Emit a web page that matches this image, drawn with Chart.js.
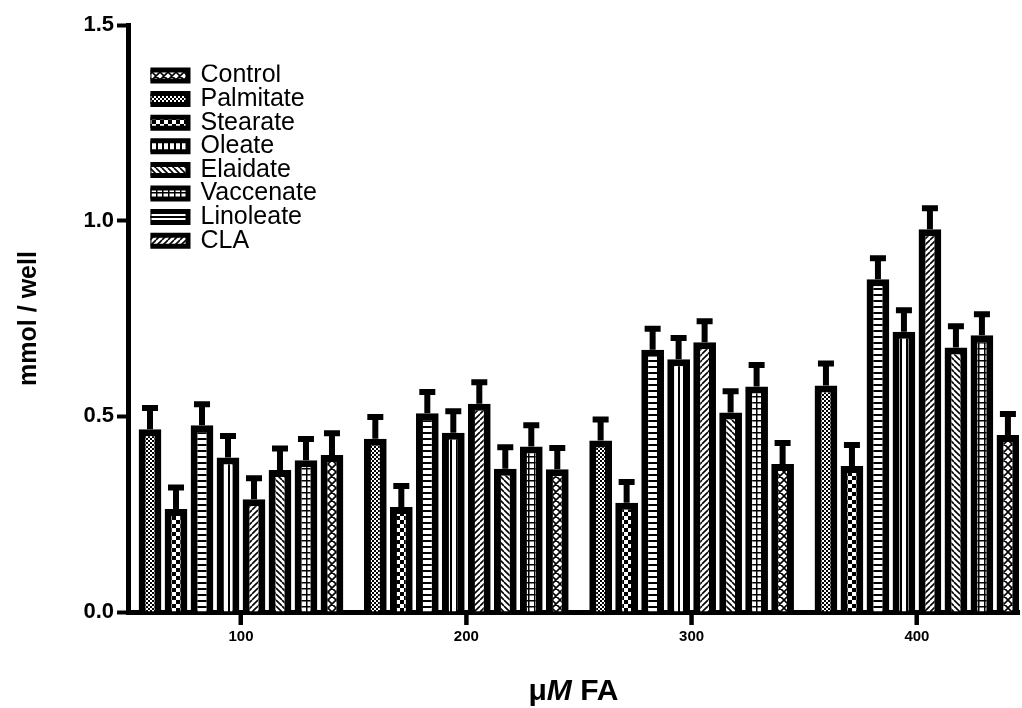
<!DOCTYPE html>
<html>
<head>
<meta charset="utf-8">
<title>mmol / well</title>
<script src="https://cdn.jsdelivr.net/npm/chart.js@4.4.1/dist/chart.umd.min.js"></script>
<style>
    body { margin: 0; background: #fff; }
    #box { width: 1022px; height: 708px; }
</style>
</head>
<body>
<div id="box"><canvas id="grafico" width="1022" height="708"></canvas></div>
<script>
// Dados
const concentracoes = [100, 200, 300, 400];
const ticksY = [0, 0.5, 1.0, 1.5];

// ordem das barras dentro de cada grupo
const nomes = ['Palmitate', 'Stearate', 'Linoleate', 'Oleate', 'CLA', 'Elaidate', 'Vaccenate', 'Control'];
// ordem da legenda
const ordemLegenda = ['Control', 'Palmitate', 'Stearate', 'Oleate', 'Elaidate', 'Vaccenate', 'Linoleate', 'CLA'];

const palmitate = [0.467, 0.443, 0.438, 0.579];
const stearate  = [0.263, 0.268, 0.279, 0.373];
const linoleate = [0.477, 0.508, 0.670, 0.850];
const oleate    = [0.395, 0.458, 0.646, 0.716];
const cla       = [0.288, 0.532, 0.689, 0.978];
const elaidate  = [0.363, 0.366, 0.510, 0.676];
const vaccenate = [0.388, 0.423, 0.576, 0.707];
const control   = [0.401, 0.365, 0.378, 0.452];

// erro padrão (só a parte de cima aparece)
const semPalmitate = [0.054, 0.055, 0.054, 0.056];
const semStearate  = [0.055, 0.054, 0.053, 0.054];
const semLinoleate = [0.054, 0.054, 0.054, 0.054];
const semOleate    = [0.055, 0.055, 0.054, 0.055];
const semCla       = [0.054, 0.055, 0.054, 0.054];
const semElaidate  = [0.055, 0.055, 0.054, 0.054];
const semVaccenate = [0.054, 0.054, 0.055, 0.054];
const semControl   = [0.056, 0.054, 0.054, 0.054];

const valores = [palmitate, stearate, linoleate, oleate, cla, elaidate, vaccenate, control];
const erros = [semPalmitate, semStearate, semLinoleate, semOleate, semCla, semElaidate, semVaccenate, semControl];
const tipos = ['pontos', 'xadrez', 'horizontal', 'vertical', 'diagonal', 'contraDiagonal', 'grade', 'cruzado'];

const fonte = '"Liberation Sans", Arial, sans-serif';

// Função para criar as hachuras em preto e branco
function criarPadrao(tipo) {
    const c = document.createElement('canvas');
    const p = { pontos: 4, xadrez: 8, horizontal: 6, vertical: 6, diagonal: 6, contraDiagonal: 6, grade: 6, cruzado: 8 }[tipo];
    c.width = p;
    c.height = p;
    const g = c.getContext('2d');
    g.fillStyle = '#fff';
    g.fillRect(0, 0, p, p);
    g.fillStyle = '#000';
    g.strokeStyle = '#000';
    g.lineWidth = 1.6;

    if (tipo === 'pontos') {
        g.fillRect(0, 0, 2, 2);
        g.fillRect(2, 2, 2, 2);
    } else if (tipo === 'xadrez') {
        g.fillRect(0, 0, 4, 4);
        g.fillRect(4, 4, 4, 4);
    } else if (tipo === 'horizontal') {
        g.fillRect(0, 0, p, 2);
    } else if (tipo === 'vertical') {
        g.fillRect(0, 0, 2, p);
    } else if (tipo === 'grade') {
        g.fillRect(0, 0, p, 1.5);
        g.fillRect(0, 0, 1.5, p);
    } else {
        g.beginPath();
        for (let k = -p; k <= p; k += p) {
            if (tipo === 'diagonal' || tipo === 'cruzado') {
                g.moveTo(k, p);
                g.lineTo(k + p, 0);
            }
            if (tipo === 'contraDiagonal' || tipo === 'cruzado') {
                g.moveTo(k, 0);
                g.lineTo(k + p, p);
            }
        }
        g.stroke();
    }
    return g.createPattern(c, 'repeat');
}

// Barras de erro desenhadas depois das barras
const barrasDeErro = {
    id: 'barrasDeErro',
    afterDatasetsDraw(chart) {
        const ctx = chart.ctx;
        const y = chart.scales.y;
        ctx.save();
        ctx.strokeStyle = '#000';
        ctx.lineWidth = 6;
        chart.data.datasets.forEach((ds, d) => {
            const meta = chart.getDatasetMeta(d);
            meta.data.forEach((bar, i) => {
                const topo = y.getPixelForValue(ds.data[i] + erros[d][i]);
                ctx.beginPath();
                ctx.moveTo(bar.x, bar.y);
                ctx.lineTo(bar.x, topo);
                ctx.moveTo(bar.x - 8, topo);
                ctx.lineTo(bar.x + 8, topo);
                ctx.stroke();
            });
        });
        ctx.restore();
    }
};

// Marcas do eixo x (abaixo da linha do eixo)
const marcasX = {
    id: 'marcasX',
    afterDraw(chart) {
        const ctx = chart.ctx;
        const x = chart.scales.x;
        const base = chart.chartArea.bottom;
        ctx.save();
        ctx.strokeStyle = '#000';
        ctx.lineWidth = 4;
        concentracoes.forEach(v => {
            const px = x.getPixelForValue(v);
            ctx.beginPath();
            ctx.moveTo(px, base);
            ctx.lineTo(px, base + 13);
            ctx.stroke();
        });
        ctx.restore();
    }
};

// Legenda dentro da área do gráfico, um pouco afastada do eixo
const paddingLegenda = -1.4;
const moverLegenda = {
    id: 'moverLegenda',
    afterLayout(chart) {
        const lg = chart.legend;
        lg.left = chart.chartArea.left + 21 - paddingLegenda;
        lg.top = chart.chartArea.top + 38 - paddingLegenda;
    }
};

// Título do eixo x com o M em itálico
const tituloX = {
    id: 'tituloX',
    afterDraw(chart) {
        const ctx = chart.ctx;
        const area = chart.chartArea;
        const partes = [
            ['\u03bc', 'bold 30px ' + fonte],
            ['M', 'italic bold 30px ' + fonte],
            [' FA', 'bold 30px ' + fonte]
        ];
        ctx.save();
        let total = 0;
        partes.forEach(p => { ctx.font = p[1]; total += ctx.measureText(p[0]).width; });
        let x = (area.left + area.right) / 2 - total / 2;
        const yBase = area.bottom + 88;
        ctx.fillStyle = '#000';
        ctx.textBaseline = 'alphabetic';
        partes.forEach(p => {
            ctx.font = p[1];
            ctx.fillText(p[0], x, yBase);
            x += ctx.measureText(p[0]).width;
        });
        ctx.restore();
    }
};

const datasets = nomes.map((nome, i) => ({
    label: nome,
    data: valores[i],
    backgroundColor: criarPadrao(tipos[i]),
    borderColor: '#000',
    borderWidth: 7,
    categoryPercentage: 0.923,
    barPercentage: 0.874
}));

const ctx = document.getElementById('grafico').getContext('2d');
new Chart(ctx, {
    type: 'bar',
    data: { labels: concentracoes, datasets: datasets },
    plugins: [barrasDeErro, marcasX, moverLegenda, tituloX],
    options: {
        responsive: false,
        animation: false,
        layout: { padding: { top: 25, right: 3, left: 0, bottom: 0 } },
        plugins: {
            tooltip: { enabled: false },
            legend: {
                position: 'chartArea',
                align: 'start',
                labels: {
                    boxWidth: 39,
                    boxHeight: 11,
                    padding: paddingLegenda,
                    color: '#000',
                    font: { family: fonte, size: 25 },
                    sort: (a, b) => ordemLegenda.indexOf(a.text) - ordemLegenda.indexOf(b.text),
                    generateLabels(chart) {
                        const itens = Chart.defaults.plugins.legend.labels.generateLabels(chart);
                        itens.forEach(it => { it.lineWidth = 5; });
                        return itens;
                    }
                }
            }
        },
        scales: {
            x: {
                type: 'linear',
                offset: false,
                min: 49.85,
                max: 445.3,
                afterFit: s => { s.height = 96; },
                afterBuildTicks: s => { s.ticks = concentracoes.map(v => ({ value: v })); },
                grid: { offset: false, drawOnChartArea: false, tickLength: 13, tickWidth: 4, tickColor: '#000' },
                border: { color: '#000', width: 5 },
                ticks: {
                    color: '#000',
                    padding: 3,
                    font: { family: fonte, size: 15, weight: 'bold' },
                    callback: v => String(v)
                }
            },
            y: {
                min: 0,
                max: 1.5,
                afterFit: s => { s.width = 128; },
                afterBuildTicks: s => { s.ticks = ticksY.map(v => ({ value: v })); },
                grid: { drawOnChartArea: false, tickLength: 11, tickWidth: 4, tickColor: '#000' },
                border: { color: '#000', width: 5 },
                ticks: {
                    color: '#000',
                    padding: 3,
                    font: { family: fonte, size: 22, weight: 'bold' },
                    callback: v => v.toFixed(1)
                },
                title: {
                    display: true,
                    text: 'mmol / well',
                    color: '#000',
                    padding: { top: 14, bottom: 0 },
                    font: { family: fonte, size: 25, weight: 'bold' }
                }
            }
        }
    }
});
</script>
</body>
</html>
